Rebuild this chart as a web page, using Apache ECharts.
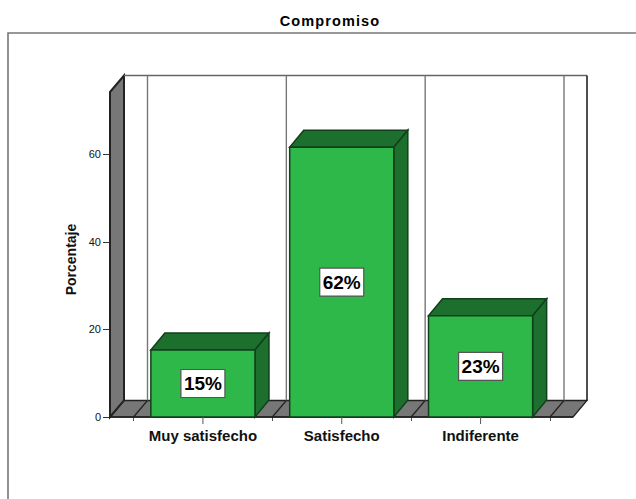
<!DOCTYPE html>
<html><head><meta charset="utf-8">
<style>html,body{margin:0;padding:0;background:#fff}#c{width:636px;height:499px}
#c text[style*="14.5px"]{letter-spacing:1.1px}</style>
<script src="https://cdn.jsdelivr.net/npm/echarts@6/dist/echarts.min.js"></script></head>
<body><div id="c"></div>
<script>
const categories = ['Muy satisfecho', 'Satisfecho', 'Indiferente'];
const values = [15.3, 61.6, 23.1];
const labels = ['15%', '62%', '23%'];
const yTicks = [0, 20, 40, 60];
const yMax = 74.2;

const DX = 14, DY = -16.5, BAR_DY = -17, PAD_L = 23.5, PAD_R = 23;
const FRONT = '#2fb84a', SIDE = '#1c6f2d', EDGE = '#123f1c', WALL = '#777777', WALLEDGE = '#222222';
const F = 'Liberation Sans';

function poly(pts, fill, stroke, lw) {
  return {type:'polygon', shape:{points:pts}, style:{fill:fill, stroke:stroke, lineWidth:lw===undefined?1.5:lw}};
}
function line(x1,y1,x2,y2,stroke,lw){
  return {type:'line', shape:{x1,y1,x2,y2}, style:{stroke, lineWidth:lw||1}};
}

const chart = echarts.init(document.getElementById('c'), null, {renderer:'svg'});
chart.setOption({
  animation:false,
  backgroundColor:'#fff',
  title:{text:'Compromiso', left:325, top:8, textAlign:'center',
    textStyle:{fontFamily:F, fontSize:14.5, fontWeight:'bold', color:'#000'}},
  grid:{left:133.5, right:86, top:92, bottom:82},
  xAxis:{type:'category', data:categories,
    axisLine:{show:false},
    axisTick:{show:true, length:4, lineStyle:{color:'#555', width:1}},
    axisLabel:{fontFamily:F, fontSize:15, fontWeight:'bold', color:'#111', margin:11, interval:0, hideOverlap:false}},
  yAxis:{type:'value', min:0, max:yMax, interval:20, offset:PAD_L,
    name:'Porcentaje', nameLocation:'middle', nameGap:25, nameRotate:90,
    nameTextStyle:{fontFamily:F, fontSize:14, fontWeight:'bold', color:'#111', padding:[0,10,0,0]},
    axisLine:{show:false},
    axisTick:{show:true, length:7, customValues:yTicks, lineStyle:{color:'#333', width:1}},
    axisLabel:{fontFamily:F, fontSize:11, color:'#111', margin:9, customValues:yTicks},
    splitLine:{show:false}},
  series:[
    {type:'custom', z:1, silent:true, data:[0],
     renderItem(p, api){
       const cs = p.coordSys, x0 = cs.x - PAD_L, x1 = cs.x + cs.width + PAD_R, yb = cs.y + cs.height, yt = cs.y;
       const kids = [
         {type:'rect', shape:{x:8,y:33,width:640,height:480}, style:{fill:'none', stroke:'#777', lineWidth:1.6}},
         poly([[x0,yb],[x0+DX,yb+DY],[x1+DX,yb+DY],[x1,yb]], WALL, WALLEDGE, 1.3),
         poly([[x0,yt],[x0+DX,yt+DY],[x0+DX,yb+DY],[x0,yb]], WALL, WALLEDGE, 2),
         line(x0+DX,yt+DY,x1+DX,yt+DY,'#666',1.6),
         line(x1+DX,yt+DY,x1+DX,yb+DY,'#222',1.6)
       ];
       for (let i=0;i<=categories.length;i++){
         const xx = cs.x + cs.width*i/categories.length;
         kids.push(line(xx+DX,yt+DY,xx+DX,yb+DY,'#777',1.4));
         kids.push(line(xx,yb,xx+DX,yb+DY,'#222',1.2));
       }
       kids.push(line(x0,yb,x1,yb,'#222',1.4));
       return {type:'group', children:kids};
     }},
    {type:'custom', z:2, data:values.map((v,i)=>[i,v]),
     encode:{x:0,y:1},
     renderItem(p, api){
       const i = api.value(0), v = api.value(1);
       const top = api.coord([i,v]), base = api.coord([i,0]);
       const bw = api.size([1,0])[0]*0.75;
       const l = top[0]-bw/2, r = top[0]+bw/2, t = top[1], b = base[1];
       return {type:'group', children:[
         poly([[l,t],[l+DX,t+BAR_DY],[r+DX,t+BAR_DY],[r,t]], SIDE, EDGE),
         poly([[r,t],[r+DX,t+BAR_DY],[r+DX,b+BAR_DY],[r,b]], SIDE, EDGE),
         poly([[l,t],[r,t],[r,b],[l,b]], FRONT, EDGE),
         line(top[0],b,top[0],b+7,'#555',1),
         {type:'rect', z2:5, shape:{x:top[0]-22,y:(t+b)/2-14,width:44,height:28}, style:{fill:'#fff',stroke:'#555',lineWidth:1.2}},
         {type:'text', z2:6, style:{x:top[0],y:(t+b)/2+0.5,text:labels[i],align:'center',verticalAlign:'middle',
            fontFamily:F,fontSize:19,fontWeight:'bold',fill:'#000'}}
       ]};
     }}
  ]
});
</script></body></html>
